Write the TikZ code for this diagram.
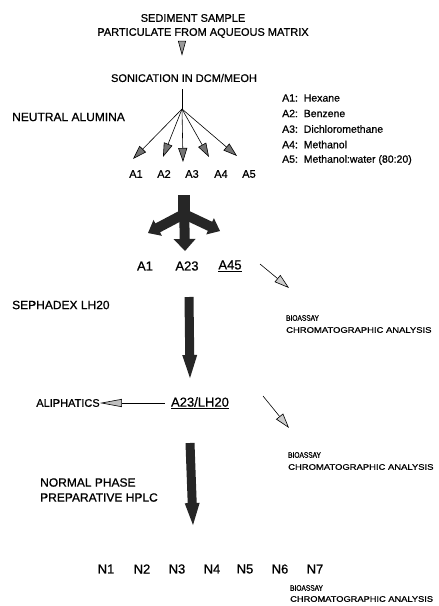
\documentclass[tikz,border=0pt]{standalone}
\usepackage{fontspec}
\setmainfont{Liberation Sans}[FakeBold=0.8]
\usetikzlibrary{arrows.meta,calc}
\newcommand\fatarr[5]{% start, tip, shaft half width, head half width, head length
  \coordinate (fh) at ($(#2)!#5!(#1)$);
  \fill[fatfill] ($(#1)!#3!90:(#2)$) -- ($(fh)!#3!90:(#2)$) -- ($(fh)!#4!90:(#2)$) -- (#2)
    -- ($(fh)!#4!-90:(#2)$) -- ($(fh)!#3!-90:(#2)$) -- ($(#1)!#3!-90:(#2)$) -- cycle;}
\begin{document}
\begin{tikzpicture}[x=1pt,y=-1pt,
  txt/.style={inner sep=0pt, font=\fontsize{11}{13}\selectfont},
  side/.style={inner sep=0pt, anchor=west, font=\fontsize{12}{15}\selectfont, align=left},
  big/.style={inner sep=0pt, font=\fontsize{13}{15}\selectfont},
  fanlbl/.style={inner sep=0pt, font=\fontsize{11}{13}\selectfont},
  legend/.style={inner sep=0pt, anchor=west, font=\fontsize{10.5}{12}\selectfont},
  bio/.style={inner sep=0pt, anchor=west, font=\fontsize{8}{9}\selectfont},
  chrom/.style={inner sep=0pt, anchor=west, font=\fontsize{8}{9}\selectfont},
  fatfill/.style={fill=black!85},
  fanarrow/.style={line width=0.6pt, -{Triangle[length=14pt,width=9pt,fill=black!55]}},
  openarrow/.style={line width=0.6pt, -{Triangle[length=15pt,width=9pt,fill=black!20]}},
  longhead/.style={line width=0.6pt, -{Triangle[length=22pt,width=8pt,fill=black!25]}}
]
\useasboundingbox (0,0) rectangle (439,606);

% top texts
\node[txt] (sed) at (193,18) {SEDIMENT SAMPLE};
\node[txt] (part) at (203,33) {PARTICULATE FROM AQUEOUS MATRIX};
\node[txt] (son) at (184,78) {SONICATION IN DCM/MEOH};
\coordinate (c0) at (182,0);
\draw[-{Triangle[length=15pt,width=8pt,fill=black!40]}, line width=0.6pt]
  ([yshift=-3pt]part.south -| c0) -- ([yshift=18pt]son.north -| c0);

% fan
\coordinate (fan) at (182,109);
\draw[line width=0.7pt] ([yshift=-7pt]son.south -| fan) -- (fan);
\node[side] (alum) at (12,117) {NEUTRAL ALUMINA};
\coordinate (t1) at (133,159);
\coordinate (t2) at (163,157);
\coordinate (t3) at (183,162);
\coordinate (t4) at (209,157);
\coordinate (t5) at (237,156);
\foreach \i in {1,...,5} \draw[fanarrow] (fan) -- (t\i);
\node[fanlbl] (a1) at (136,174) {A1};
\node[fanlbl] (a2) at (164,174) {A2};
\node[fanlbl] (a3) at (192,174) {A3};
\node[fanlbl] (a4) at (221,174) {A4};
\node[fanlbl] (a5) at (249,174) {A5};

% legend
\node[legend] (l1) at (282,98) {A1:\ \ Hexane};
\node[legend] (l2) at (282,113.5) {A2:\ \ Benzene};
\node[legend] (l3) at (282,129) {A3:\ \ Dichloromethane};
\node[legend] (l4) at (282,144.5) {A4:\ \ Methanol};
\node[legend] (l5) at (282,160) {A5:\ \ Methanol:water (80:20)};

% branching fat arrow
\coordinate (bj) at (184,214);
\fill[fatfill] (178,195) rectangle (190,216);
\coordinate (bstart) at (184,205);
\coordinate (bdown) at (185,251);
\coordinate (bleft) at (148,233);
\coordinate (bright) at (220,231);
\fatarr{bstart}{bdown}{5pt}{11pt}{12pt}
\fatarr{bj}{bleft}{5pt}{9pt}{11pt}
\fatarr{bj}{bright}{5pt}{9pt}{11pt}

% A1 A23 A45
\node[big] (b1) at (145,266) {A1};
\node[big] (b23) at (187,266) {A23};
\node[big] (b45) at (230,266) {\underline{A45}};
\coordinate (d1) at (289,288);
\draw[openarrow] ([xshift=30pt,yshift=2pt]b45.center) -- (d1);
\node[bio] (bio1) at (286,318) {\scalebox{0.82}[1]{BIOASSAY}};
\node[chrom] (chr1) at (286,330) {\scalebox{1.18}[1]{CHROMATOGRAPHIC ANALYSIS}};

\node[side] (seph) at (12,305) {SEPHADEX LH20};

% long arrow 1
\coordinate (la1s) at (189,297);
\coordinate (la1t) at (190,378);
\fatarr{la1s}{la1t}{4.5pt}{7.5pt}{23pt}

% A23/LH20
\node[big] (lh) at (200,403) {\underline{A23/LH20}};
\node[txt] (ali) at (68,403) {ALIPHATICS};
\draw[longhead] ([xshift=-6pt]lh.west) -- (ali.east);
\coordinate (d2) at (289,428);
\draw[openarrow] ([xshift=63pt,yshift=7pt]lh.center) -- (d2);
\node[bio] (bio2) at (288,455) {\scalebox{0.82}[1]{BIOASSAY}};
\node[chrom] (chr2) at (288,467) {\scalebox{1.18}[1]{CHROMATOGRAPHIC ANALYSIS}};

% long arrow 2
\coordinate (la2s) at (190,443);
\coordinate (la2t) at (193,525);
\fatarr{la2s}{la2t}{4.5pt}{7.5pt}{22pt}
\node[side] (np) at (40,490) {NORMAL PHASE\\PREPARATIVE HPLC};

% N row
\node[big] (n1) at (106,569) {N1};
\node[big] (n2) at (142,569) {N2};
\node[big] (n3) at (177,569) {N3};
\node[big] (n4) at (212,569) {N4};
\node[big] (n5) at (245,569) {N5};
\node[big] (n6) at (280,569) {N6};
\node[big] (n7) at (315,569) {N7};
\node[bio] (bio3) at (290,588) {\scalebox{0.82}[1]{BIOASSAY}};
\node[chrom] (chr3) at (290,599) {\scalebox{1.16}[1]{CHROMATOGRAPHIC ANALYSIS}};
\end{tikzpicture}
\end{document}
